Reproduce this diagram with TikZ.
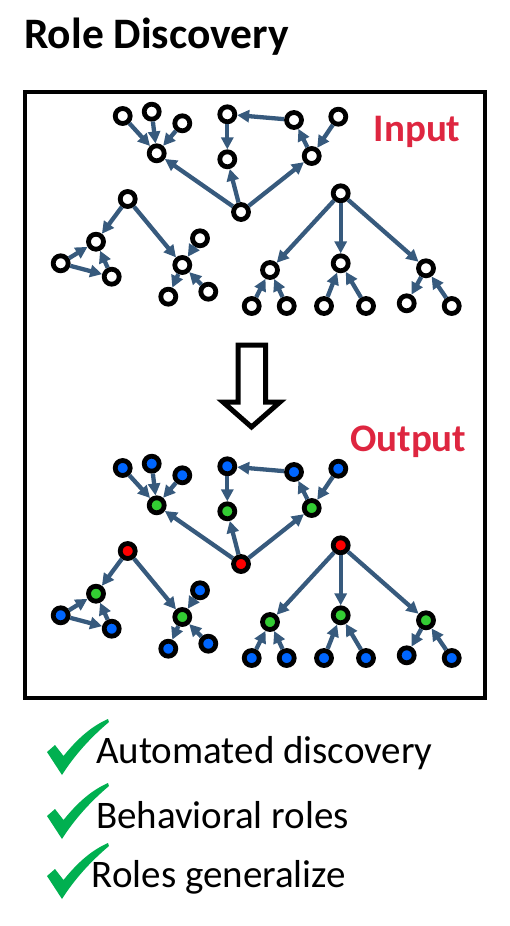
\documentclass[tikz,border=0pt]{standalone}
\usepackage{fontspec}
\setmainfont{Carlito}
\usetikzlibrary{arrows.meta}
\definecolor{edgeblue}{RGB}{55,90,125}
\definecolor{labelred}{RGB}{222,38,64}
\definecolor{checkgreen}{RGB}{0,176,80}
\definecolor{leafblue}{RGB}{0,102,255}
\definecolor{hubgreen}{RGB}{51,204,51}
\definecolor{rootred}{RGB}{255,0,0}

\begin{document}
\begin{tikzpicture}[
        x=1pt, y=-1pt,
        >={Triangle[length=12pt,width=12pt]},
        vtx/.style={circle, draw=black, line width=4.8pt, minimum size=15pt, inner sep=0pt, fill=white},
        leaf in/.style={}, hub in/.style={}, root in/.style={},
        leaf out/.style={fill=leafblue}, hub out/.style={fill=hubgreen}, root out/.style={fill=rootred},
        edge/.style={->, draw=edgeblue, line width=4.3pt},
        panel/.style={font=\bfseries\fontsize{39}{42}\selectfont, text=labelred, anchor=base west, inner sep=0pt},
        item/.style={font=\fontsize{39}{44}\selectfont, anchor=base west, inner sep=0pt}
    ]
        \useasboundingbox (0,0) rectangle (510,926);

        % --- Title and frame ---
        \node[anchor=base west, inner sep=0pt, font=\bfseries\fontsize{43.5}{47}\selectfont] (title) at (24,48) {Role Discovery};
        \draw[line width=4pt] (24.5,92) rectangle (485,698);

        \node[panel] (inlbl) at (373.5,141.5) {Input};
        \node[panel] (outlbl) at (350,451.5) {Output};

        % --- Same graph twice: plain input, coloured output ---
        \foreach \g/\dy in {in/0, out/352}{
        \begin{scope}[shift={(0,\dy)}]
            % star in the middle
            \node[vtx, root \g] (\g-root1) at (241,212) {};
            \node[vtx, hub \g] (\g-hubA) at (156.7,153.3) {};
            \node[vtx, leaf \g] (\g-a1) at (122.7,116) {};
            \node[vtx, leaf \g] (\g-a2) at (151.7,111.7) {};
            \node[vtx, leaf \g] (\g-a3) at (182.3,123.3) {};
            \node[vtx, leaf \g] (\g-b1) at (227.3,114.3) {};
            \node[vtx, hub \g] (\g-hubB) at (227.3,159.3) {};
            \node[vtx, leaf \g] (\g-c1) at (294,120) {};
            \node[vtx, leaf \g] (\g-c2) at (338.3,116.7) {};
            \node[vtx, hub \g] (\g-hubC) at (311.7,156) {};

            \draw[edge] (\g-root1) -- (\g-hubA);
            \draw[edge] (\g-root1) -- (\g-hubB);
            \draw[edge] (\g-root1) -- (\g-hubC);
            \draw[edge] (\g-a1) -- (\g-hubA);
            \draw[edge] (\g-a2) -- (\g-hubA);
            \draw[edge] (\g-a3) -- (\g-hubA);
            \draw[edge] (\g-b1) -- (\g-hubB);
            \draw[edge] (\g-c1) -- (\g-b1);
            \draw[edge] (\g-hubC) -- (\g-c1);
            \draw[edge] (\g-c2) -- (\g-hubC);

            % left graph
            \node[vtx, root \g] (\g-root2) at (127.7,199) {};
            \node[vtx, hub \g] (\g-hubD) at (96,241.7) {};
            \node[vtx, leaf \g] (\g-e) at (60.7,263.3) {};
            \node[vtx, leaf \g] (\g-f) at (111.7,276.7) {};
            \node[vtx, hub \g] (\g-hubG) at (182.3,265) {};
            \node[vtx, leaf \g] (\g-h) at (200,238.3) {};
            \node[vtx, leaf \g] (\g-i) at (168.3,296.7) {};
            \node[vtx, leaf \g] (\g-j) at (208.3,291.7) {};

            \draw[edge] (\g-root2) -- (\g-hubD);
            \draw[edge] (\g-root2) -- (\g-hubG);
            \draw[edge] (\g-e) -- (\g-hubD);
            \draw[edge] (\g-e) -- (\g-f);
            \draw[edge] (\g-f) -- (\g-hubD);
            \draw[edge] (\g-h) -- (\g-hubG);
            \draw[edge] (\g-hubG) -- (\g-i);
            \draw[edge] (\g-j) -- (\g-hubG);

            % right tree
            \node[vtx, root \g] (\g-root3) at (340.7,193.3) {};
            \node[vtx, hub \g] (\g-k1) at (270,270) {};
            \node[vtx, hub \g] (\g-k2) at (340.7,263.3) {};
            \node[vtx, hub \g] (\g-k3) at (426,268.3) {};
            \node[vtx, leaf \g] (\g-l1) at (251.7,306) {};
            \node[vtx, leaf \g] (\g-l2) at (286.7,306) {};
            \node[vtx, leaf \g] (\g-l3) at (324,306) {};
            \node[vtx, leaf \g] (\g-l4) at (366,306) {};
            \node[vtx, leaf \g] (\g-l5) at (406.7,303.3) {};
            \node[vtx, leaf \g] (\g-l6) at (451.7,306) {};

            \draw[edge] (\g-root3) -- (\g-k1);
            \draw[edge] (\g-root3) -- (\g-k2);
            \draw[edge] (\g-root3) -- (\g-k3);
            \draw[edge] (\g-l1) -- (\g-k1);
            \draw[edge] (\g-l2) -- (\g-k1);
            \draw[edge] (\g-l3) -- (\g-k2);
            \draw[edge] (\g-l4) -- (\g-k2);
            \draw[edge] (\g-k3) -- (\g-l5);
            \draw[edge] (\g-l6) -- (\g-k3);
        \end{scope}
        }

        % --- Hollow arrow between the panels ---
        \draw[line width=5pt, line join=miter] (238,345) -- (265.5,345) -- (265.5,402) -- (280,402)
            -- (251.5,427) -- (223,402) -- (238,402) -- cycle;

        % --- Checked items ---
        \foreach \dy in {0,64,124}{
            \fill[checkgreen, shift={(0,\dy)}] (47,752) -- (55,745) -- (63.5,756)
                .. controls (78,738) and (92,726) .. (108,719) -- (109,722)
                .. controls (90,738) and (74,756) .. (62,775) -- cycle;
        }
        \node[item] (auto) at (96,763) {Automated discovery};
        \node[item] (behav) at (96,828) {Behavioral roles};
        \node[item] (general) at (91.5,887) {Roles generalize};
    \end{tikzpicture}
\end{document}
